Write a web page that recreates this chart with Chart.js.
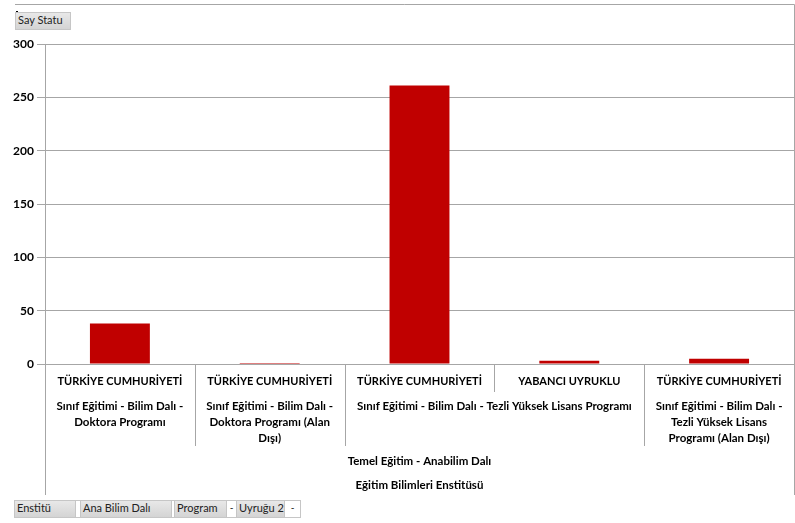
<!DOCTYPE html>
<html>
<head>
<meta charset="utf-8">
<script src="https://cdn.jsdelivr.net/npm/chart.js@4"></script>
<style>
  body { margin: 0; background: #fff; }
  #wrap { position: relative; width: 795px; height: 523px; }
  .btn {
    position: absolute; height: 18px; line-height: 17px;
    font: 11px Lato, "Open Sans", sans-serif; color: #222;
    background: linear-gradient(#e8e8e8, #d4d4d4);
    border: 1px solid #c6c6c6; box-sizing: border-box; padding-left: 2px;
    white-space: nowrap;
  }
  .drop {
    position: absolute; height: 18px; line-height: 15px; text-align: center;
    font: 10px Lato, sans-serif; background: #fff; border: 1px solid #c6c6c6;
    box-sizing: border-box;
  }
</style>
</head>
<body>
<div id="wrap">
  <canvas id="pivotChart" width="795" height="523"></canvas>
  <div class="btn" style="left:15px;top:12px;width:56px;">Say Statu</div>
  <div class="btn" style="left:14px;top:500px;width:62px;">Enstitü</div>
  <div class="drop" style="left:75px;top:500px;width:6px;"></div>
  <div class="btn" style="left:80px;top:500px;width:92px;">Ana Bilim Dalı</div>
  <div class="drop" style="left:171px;top:500px;width:4px;"></div>
  <div class="btn" style="left:174px;top:500px;width:54px;">Program</div>
  <div class="drop" style="left:226px;top:500px;width:11px;">-</div>
  <div class="btn" style="left:236px;top:500px;width:49px;">Uyruğu 2</div>
  <div class="drop" style="left:284px;top:500px;width:17px;">-</div>
</div>
<script>
const uyruk = ['TÜRKİYE CUMHURİYETİ', 'TÜRKİYE CUMHURİYETİ', 'TÜRKİYE CUMHURİYETİ', 'YABANCI UYRUKLU', 'TÜRKİYE CUMHURİYETİ'];
const sayStatu = [38, 1, 261, 3, 5];

// program groups: text lines + which categories they cover
const programlar = [
    { lines: ['Sınıf Eğitimi - Bilim Dalı -', 'Doktora Programı'], from: 0, to: 0 },
    { lines: ['Sınıf Eğitimi - Bilim Dalı -', 'Doktora Programı (Alan', 'Dışı)'], from: 1, to: 1 },
    { lines: ['Sınıf Eğitimi - Bilim Dalı - Tezli Yüksek Lisans Programı'], from: 2, to: 3 },
    { lines: ['Sınıf Eğitimi - Bilim Dalı -', 'Tezli Yüksek Lisans', 'Programı (Alan Dışı)'], from: 4, to: 4 },
];
const anaBilimDali = 'Temel Eğitim - Anabilim Dalı';
const enstitu = 'Eğitim Bilimleri Enstitüsü';

const yTicks = [0, 50, 100, 150, 200, 250, 300];

const lineColor = '#a6a6a6';
const fontFamily = 'Lato, "Open Sans", sans-serif';

// draws the multi-level category axis under the plot
const pivotAxis = {
    id: 'pivotAxis',
    afterDraw(chart) {
        const { ctx, chartArea } = chart;
        const x = chart.scales.x;
        const half = (x.getPixelForValue(1) - x.getPixelForValue(0)) / 2;
        const base = chartArea.bottom;
        ctx.save();
        ctx.strokeStyle = lineColor;
        ctx.lineWidth = 1;
        ctx.fillStyle = '#000';
        ctx.textAlign = 'center';
        ctx.textBaseline = 'middle';

        const vline = (px, y0, y1) => {
            ctx.beginPath();
            ctx.moveTo(Math.round(px) + 0.5, y0);
            ctx.lineTo(Math.round(px) + 0.5, y1);
            ctx.stroke();
        };

        // outer edges of the axis area
        vline(chartArea.left, base, base + 131);

        // nationality row
        ctx.font = 'bold 11px ' + fontFamily;
        uyruk.forEach((u, i) => {
            ctx.fillText(u, x.getPixelForValue(i), base + 17);
        });
        // separators between categories
        for (let i = 1; i < uyruk.length; i++) {
            const px = x.getPixelForValue(i) - half;
            const sameGroup = programlar.some(p => p.from < i && p.to >= i);
            vline(px, base, sameGroup ? base + 28 : base + 82);
        }
        // program row
        ctx.font = 'bold 11.5px ' + fontFamily;
        programlar.forEach(p => {
            const cx = (x.getPixelForValue(p.from) + x.getPixelForValue(p.to)) / 2;
            p.lines.forEach((line, k) => {
                ctx.fillText(line, cx, base + 42 + k * 16);
            });
        });
        const mid = (chartArea.left + chartArea.right) / 2;
        ctx.fillText(anaBilimDali, mid, base + 97);
        ctx.fillText(enstitu, mid, base + 121);

        // chart frame
        ctx.beginPath();
        ctx.moveTo(15, 4.5);
        ctx.lineTo(794.5, 4.5);
        ctx.lineTo(794.5, base + 131);
        ctx.stroke();
        ctx.fillStyle = '#000';
        ctx.fillRect(16, 11, 2, 2);
        ctx.restore();
    }
};

new Chart(document.getElementById('pivotChart'), {
    type: 'bar',
    data: {
        labels: uyruk,
        datasets: [{
            label: 'Say Statu',
            data: sayStatu,
            backgroundColor: '#c00000',
            categoryPercentage: 1,
            barPercentage: 0.4,
        }],
    },
    options: {
        responsive: false,
        animation: false,
        layout: { padding: { top: 44, right: 1, bottom: 159, left: 0 } },
        plugins: { legend: { display: false }, tooltip: { enabled: false } },
        scales: {
            x: { display: false },
            y: {
                min: 0,
                max: 300,
                afterFit(scale) { scale.width = 45; },
                afterBuildTicks(scale) { scale.ticks = yTicks.map(v => ({ value: v })); },
                border: { color: lineColor },
                grid: { color: lineColor, tickLength: 8 },
                ticks: {
                    color: '#000',
                    padding: 3,
                    font: { family: fontFamily, size: 12, weight: 'bold' },
                },
            },
        },
    },
    plugins: [pivotAxis],
});
</script>
</body>
</html>
